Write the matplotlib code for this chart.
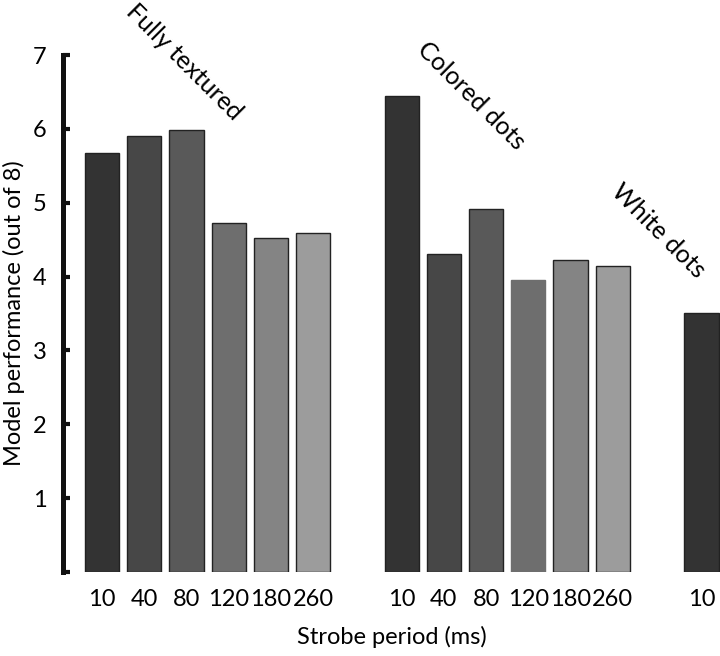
import matplotlib.pyplot as plt

plt.rcParams['font.family'] = ['Lato', 'DejaVu Sans']

groups = ['Fully textured', 'Colored dots', 'White dots']
periods_full = ['10', '40', '80', '120', '180', '260']
periods_col = ['10', '40', '80', '120', '180', '260']
periods_white = ['10']
full_vals = [5.68, 5.91, 5.99, 4.72, 4.53, 4.59]
col_vals = [6.45, 4.30, 4.92, 3.96, 4.23, 4.15]
white_vals = [3.51]
shades = ['#333333', '#474747', '#595959', '#6e6e6e', '#848484', '#9c9c9c']

fig = plt.figure(figsize=(7.2, 6.56), dpi=100)
ax = fig.add_axes([0.0875, 0.128, 0.9125, 0.788])

x_full = [i for i in range(len(full_vals))]
x_col = [7.1 + i for i in range(len(col_vals))]
x_white = [14.2]

ax.bar(x_full, full_vals, width=0.81, color=shades, edgecolor='#222222', linewidth=1)
ax.bar(x_col, col_vals, width=0.81, color=shades,
       edgecolor=['#222222', '#222222', '#222222', '#6e6e6e', '#222222', '#222222'], linewidth=1)
ax.bar(x_white, white_vals, width=0.81, color=shades[0], edgecolor='#222222', linewidth=1)

ax.set_xlim(-0.924, 14.64)
ax.set_ylim(0, 7)
ax.set_xticks(x_full + x_col + x_white)
ax.set_xticklabels(periods_full + periods_col + periods_white, fontsize=17)
ax.set_yticks(range(0, 8))
ax.set_yticklabels([''] + [str(v) for v in range(1, 8)], fontsize=17)

for s in ['top', 'right', 'bottom']:
    ax.spines[s].set_visible(False)
ax.spines['left'].set_linewidth(3.6)
ax.spines['left'].set_color('#111111')
ax.tick_params(axis='y', direction='in', length=5, width=3, pad=12, color='#111111')
ax.tick_params(axis='x', length=0, pad=12)

ax.set_xlabel('Strobe period (ms)', fontsize=17, labelpad=12)
ax.set_ylabel('Model performance (out of 8)', fontsize=17)
ax.yaxis.set_label_coords(-0.058, 0.5)

# group names, slanted
label_pos = [(0.85, 7.75), (7.75, 7.24), (12.35, 5.31)]
for name, (lx, ly) in zip(groups, label_pos):
    ax.text(lx, ly, name, rotation=-45, rotation_mode='anchor', ha='left', va='top',
            fontsize=18, clip_on=False)

fig.savefig('out.png', dpi=100)
